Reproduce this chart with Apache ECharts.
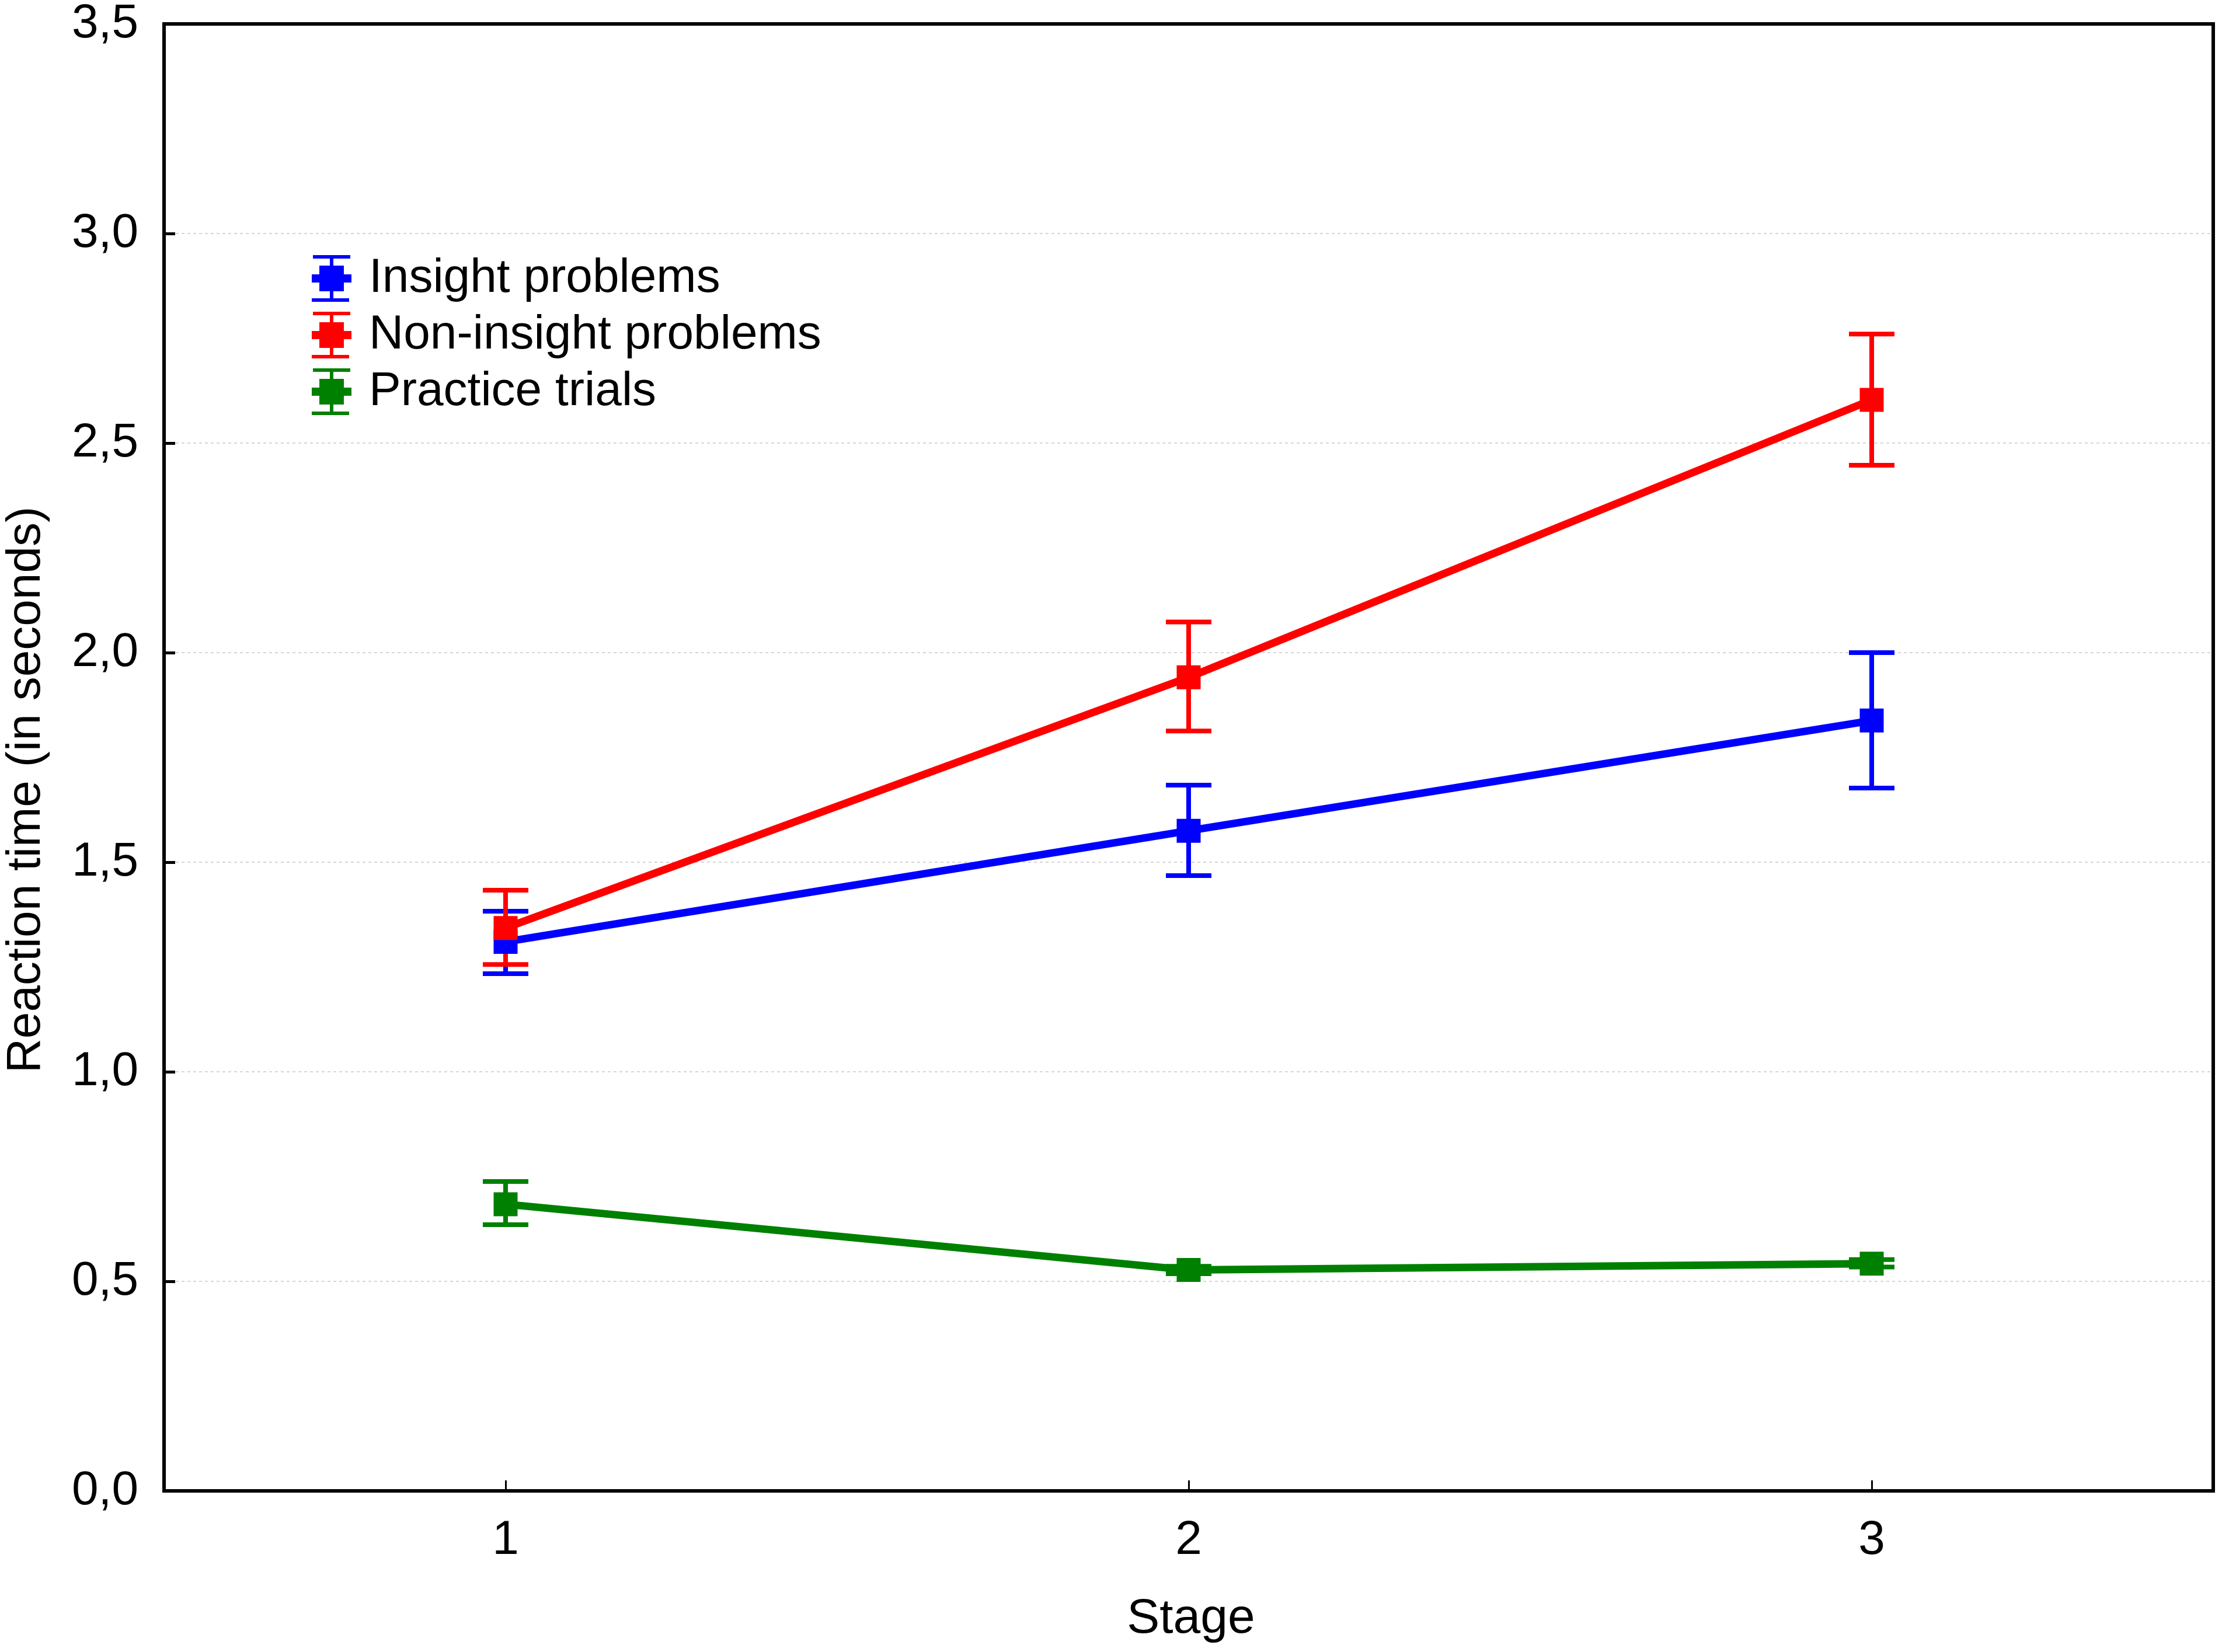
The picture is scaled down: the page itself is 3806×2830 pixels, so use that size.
<!DOCTYPE html>
<html>
<head>
<meta charset="utf-8">
<script src="https://cdn.jsdelivr.net/npm/echarts@6/dist/echarts.min.js"></script>
<style>
html,body{margin:0;padding:0;background:#fff;}
#chart{width:3806px;height:2830px;}
</style>
</head>
<body>
<div id="chart"></div>
<script>
const stages = ['1', '2', '3'];
const seriesNames = ['Insight problems', 'Non-insight problems', 'Practice trials'];
const insightMean = [1.310, 1.575, 1.838];
const insightLow  = [1.234, 1.468, 1.677];
const insightHigh = [1.383, 1.684, 2.000];
const nonInsightMean = [1.343, 1.941, 2.603];
const nonInsightLow  = [1.256, 1.813, 2.447];
const nonInsightHigh = [1.433, 2.073, 2.760];
const practiceMean = [0.684, 0.527, 0.542];
const practiceLow  = [0.635, 0.518, 0.534];
const practiceHigh = [0.738, 0.536, 0.552];
const yTicks = { min: 0, max: 3.5, interval: 0.5 };
const colors = ['#0000FF', '#FF0000', '#008000'];

const FONT = 'Liberation Sans, Arial, sans-serif';
const legendIcon = 'path://M2,0H66V6H2Z M31,0H37V80H31Z M13,18H55V62H13Z M0,33H68V47H0Z M0,74H64V80H0Z';

function errData(low, high) {
  return low.map((l, i) => [i, l, high[i]]);
}
function errSeries(name, low, high, color) {
  return {
    name: name,
    type: 'custom',
    data: errData(low, high),
    encode: { x: 0, y: [1, 2] },
    renderItem: function (params, api) {
      const pl = api.coord([api.value(0), api.value(1)]);
      const ph = api.coord([api.value(0), api.value(2)]);
      const hw = 39;
      const st = { stroke: color, lineWidth: 8, fill: null };
      return {
        type: 'group',
        children: [
          { type: 'line', shape: { x1: pl[0], y1: pl[1], x2: ph[0], y2: ph[1] }, style: st },
          { type: 'line', shape: { x1: ph[0] - hw, y1: ph[1], x2: ph[0] + hw, y2: ph[1] }, style: st },
          { type: 'line', shape: { x1: pl[0] - hw, y1: pl[1], x2: pl[0] + hw, y2: pl[1] }, style: st }
        ]
      };
    },
    z: 3
  };
}
function lineSeries(name, data, color) {
  return {
    name: name,
    type: 'line',
    data: data,
    symbol: 'rect',
    symbolSize: 41,
    itemStyle: { color: color },
    lineStyle: { color: color, width: 13 },
    z: 3
  };
}

const chart = echarts.init(document.getElementById('chart'));
chart.setOption({
  animation: false,
  backgroundColor: '#ffffff',
  grid: {
    left: 281, right: 15, top: 41, bottom: 276,
    show: true, borderColor: '#000', borderWidth: 6, backgroundColor: 'transparent'
  },
  legend: {
    orient: 'vertical',
    left: 534, top: 436,
    padding: 0,
    itemWidth: 68, itemHeight: 80, itemGap: 15,
    itemStyle: { borderWidth: 0 },
    textStyle: { fontFamily: FONT, fontSize: 82, color: '#000', padding: [0, 0, 0, 25] },
    data: seriesNames.map(n => ({ name: n, icon: legendIcon }))
  },
  xAxis: {
    type: 'category',
    data: stages,
    boundaryGap: true,
    name: 'Stage',
    nameLocation: 'middle',
    nameGap: 178,
    nameTextStyle: { fontFamily: FONT, fontSize: 84, color: '#000', padding: [0, 0, 0, 8] },
    axisLine: { show: true, lineStyle: { color: '#000', width: 6 } },
    axisTick: { show: true, inside: true, alignWithLabel: true, length: 18, lineStyle: { color: '#000', width: 3 } },
    axisLabel: { fontFamily: FONT, fontSize: 82, color: '#000', margin: 44 },
    splitLine: { show: false }
  },
  yAxis: {
    type: 'value',
    min: yTicks.min, max: yTicks.max, interval: yTicks.interval,
    axisLine: { show: true, lineStyle: { color: '#000', width: 6 } },
    axisTick: { show: true, inside: true, length: 19, lineStyle: { color: '#000', width: 5 } },
    axisLabel: {
      fontFamily: FONT, fontSize: 82, color: '#000', margin: 44,
      formatter: v => v.toFixed(1).replace('.', ',')
    },
    splitLine: {
      show: true, showMinLine: false, showMaxLine: false,
      lineStyle: { color: '#d6d6d6', width: 2, type: [5, 5] }
    }
  },
  graphic: [{
    type: 'text',
    x: 45, y: 1353,
    rotation: Math.PI / 2,
    style: {
      text: 'Reaction time (in seconds)',
      fontFamily: FONT, fontSize: 82, fill: '#000',
      textAlign: 'center', textVerticalAlign: 'middle'
    }
  }],
  series: [
    lineSeries(seriesNames[0], insightMean, colors[0]),
    errSeries(seriesNames[0], insightLow, insightHigh, colors[0]),
    lineSeries(seriesNames[1], nonInsightMean, colors[1]),
    errSeries(seriesNames[1], nonInsightLow, nonInsightHigh, colors[1]),
    lineSeries(seriesNames[2], practiceMean, colors[2]),
    errSeries(seriesNames[2], practiceLow, practiceHigh, colors[2])
  ]
});
</script>
</body>
</html>
